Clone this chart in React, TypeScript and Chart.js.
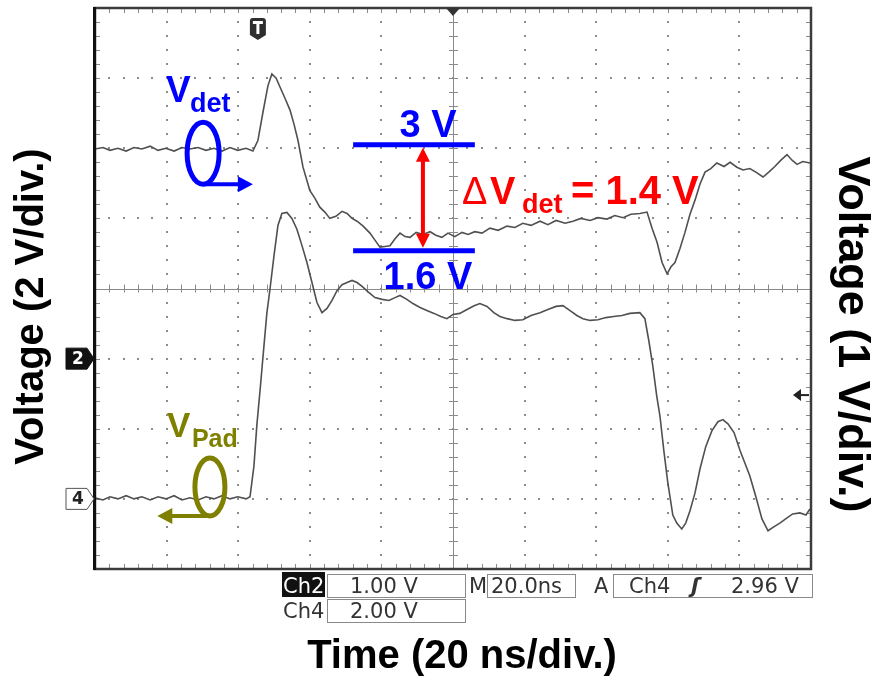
import React, { useEffect, useRef } from "react";
import { Chart, registerables } from "chart.js";

Chart.register(...registerables);

// ---- Data (time in ns, 20 ns/div) ----
const X_TICKS_NS = [0, 20, 40, 60, 80, 100, 120, 140, 160, 180, 200];
const CH4_TICKS_V = [-2, 0, 2, 4, 6, 8, 10, 12, 14]; // 2 V/div (V_Pad)
const CH2_TICKS_V = [-3, -2, -1, 0, 1, 2, 3, 4, 5]; // 1 V/div (V_det)

const VDET_T = [0.0, 2.2, 4.2, 6.4, 8.7, 10.9, 13.1, 15.4, 17.6, 19.8, 22.1, 24.3, 26.5, 28.8, 31.0, 33.2, 35.5, 37.7, 39.9, 42.2, 44.1, 45.5, 46.9, 48.3, 49.4, 50.6, 51.7, 53.1, 54.5, 55.6, 56.7, 58.1, 60.0, 61.4, 62.8, 64.2, 65.6, 67.3, 69.0, 70.4, 71.8, 73.2, 74.9, 76.8, 78.2, 79.6, 81.0, 82.4, 83.8, 85.2, 86.6, 88.0, 89.7, 91.6, 93.6, 95.2, 96.9, 98.6, 100.5, 102.5, 104.2, 106.1, 108.1, 110.3, 112.6, 115.1, 117.3, 119.5, 121.8, 124.3, 126.5, 128.8, 131.3, 133.5, 135.7, 138.3, 140.5, 143.0, 145.2, 147.5, 149.7, 152.2, 154.2, 155.6, 157.0, 158.4, 159.8, 160.9, 162.0, 163.4, 164.8, 166.2, 167.6, 169.0, 170.4, 172.0, 173.7, 175.7, 177.4, 179.3, 181.0, 182.9, 184.6, 186.6, 188.2, 189.9, 191.6, 193.3, 194.7, 196.1, 197.7, 199.7];
const VDET_V = [2.99, 3.01, 2.97, 3.00, 2.96, 3.01, 2.99, 3.03, 2.97, 3.00, 2.96, 3.01, 2.99, 3.01, 2.97, 3.00, 2.96, 3.01, 2.97, 3.00, 2.96, 3.11, 3.51, 3.89, 4.06, 4.00, 3.87, 3.71, 3.54, 3.34, 3.11, 2.73, 2.40, 2.29, 2.16, 2.09, 2.00, 2.03, 2.10, 2.07, 2.00, 1.96, 1.89, 1.79, 1.69, 1.59, 1.60, 1.61, 1.71, 1.79, 1.74, 1.73, 1.80, 1.77, 1.81, 1.76, 1.73, 1.79, 1.74, 1.80, 1.77, 1.81, 1.79, 1.86, 1.83, 1.89, 1.87, 1.93, 1.90, 1.96, 1.91, 1.97, 1.93, 1.96, 2.00, 1.97, 2.01, 1.99, 2.04, 2.01, 2.06, 2.07, 2.09, 1.86, 1.66, 1.37, 1.21, 1.31, 1.37, 1.57, 1.80, 2.06, 2.26, 2.49, 2.66, 2.71, 2.79, 2.74, 2.80, 2.73, 2.69, 2.71, 2.66, 2.59, 2.66, 2.74, 2.83, 2.91, 2.83, 2.77, 2.81, 2.79];

const VPAD_T = [0.0, 2.2, 4.2, 6.4, 8.7, 10.9, 13.1, 15.4, 17.6, 19.8, 22.1, 24.3, 26.5, 28.8, 31.0, 33.2, 35.5, 37.7, 39.9, 42.2, 43.3, 44.4, 45.2, 46.1, 47.2, 48.0, 48.9, 50.0, 51.1, 52.2, 53.6, 55.0, 56.4, 57.8, 59.2, 60.6, 62.0, 63.4, 64.8, 66.2, 67.6, 69.0, 70.4, 71.8, 73.2, 74.6, 76.2, 78.2, 80.2, 82.1, 83.8, 85.2, 87.1, 88.8, 90.8, 92.7, 94.7, 96.6, 98.3, 100.0, 101.9, 103.9, 105.9, 107.5, 109.5, 111.4, 113.1, 115.1, 117.3, 119.5, 121.8, 124.3, 126.5, 128.8, 130.7, 132.7, 134.6, 136.3, 138.3, 140.5, 142.7, 144.9, 147.2, 149.4, 152.2, 153.6, 154.7, 155.8, 156.9, 157.8, 158.9, 160.0, 161.4, 162.5, 163.9, 165.0, 166.2, 167.6, 169.0, 170.6, 172.3, 174.0, 175.4, 176.8, 178.5, 180.2, 181.5, 182.9, 184.6, 186.3, 188.0, 189.6, 191.3, 193.3, 194.9, 196.9, 198.6, 199.7];
const VPAD_V = [0.03, -0.03, 0.06, 0.00, 0.09, 0.00, 0.06, -0.03, 0.06, 0.00, 0.09, -0.03, 0.03, -0.03, 0.06, 0.00, 0.09, 0.00, 0.06, 0.00, 0.06, 0.94, 2.09, 3.09, 4.37, 5.29, 6.00, 6.94, 7.80, 8.14, 8.17, 8.00, 7.69, 7.23, 6.74, 6.17, 5.60, 5.31, 5.43, 5.66, 5.94, 6.11, 6.17, 6.23, 6.17, 6.06, 5.91, 5.74, 5.69, 5.66, 5.74, 5.80, 5.69, 5.57, 5.46, 5.37, 5.29, 5.20, 5.14, 5.26, 5.29, 5.40, 5.51, 5.57, 5.49, 5.31, 5.20, 5.14, 5.09, 5.11, 5.23, 5.31, 5.40, 5.49, 5.51, 5.37, 5.23, 5.14, 5.09, 5.11, 5.17, 5.20, 5.23, 5.29, 5.31, 5.14, 4.51, 3.80, 2.94, 2.37, 1.37, 0.46, -0.46, -0.69, -0.86, -0.69, -0.34, 0.17, 0.86, 1.49, 1.94, 2.20, 2.26, 2.14, 1.89, 1.37, 1.03, 0.66, 0.06, -0.57, -0.91, -0.80, -0.69, -0.54, -0.43, -0.40, -0.46, -0.29];

// Annotation values
const LEVEL_HIGH_V = 3.05; // "3 V" marker line (Ch2 scale)
const LEVEL_LOW_V = 1.54; // "1.6 V" marker line (Ch2 scale)
const LEVEL_SPAN_NS = [72.1, 106.1];
const DELTA_ARROW_NS = 91.6;
const TRIGGER_LEVEL_V = 2.96; // Ch4
const TRIGGER_POS_NS = 45.5;
const VDET_LOOP = { t: 30.2, v: 2.93, arrowTo: 44.1 };
const VPAD_LOOP = { t: 32.1, v: 0.34, arrowTo: 17.4 };

const SANS = '"Liberation Sans", Arial, Helvetica, sans-serif';
const MONO = '"DejaVu Sans", Verdana, sans-serif';
const BLUE = "#0000ff";
const RED = "#ff0000";
const OLIVE = "#808000";

function txt(ctx: CanvasRenderingContext2D, s: string, x: number, y: number, font: string, color: string, align: CanvasTextAlign = "left") {
  ctx.font = font;
  ctx.fillStyle = color;
  ctx.textAlign = align;
  ctx.textBaseline = "alphabetic";
  ctx.fillText(s, x, y);
}

const scopePlugin = {
  id: "scope",
  beforeDraw(chart: any) {
    const ctx = chart.ctx;
    ctx.save();
    ctx.fillStyle = "#ffffff";
    ctx.fillRect(0, 0, chart.width, chart.height);
    ctx.restore();
  },
  beforeDatasetsDraw(chart: any) {
    const ctx: CanvasRenderingContext2D = chart.ctx;
    const { left, right, top, bottom } = chart.chartArea;
    const xs = chart.scales.x;
    const ys = chart.scales.y;
    const w = right - left;
    const h = bottom - top;
    ctx.save();
    // dotted grid
    ctx.fillStyle = "#8c8c8c";
    X_TICKS_NS.forEach((t, i) => {
      if (i === 0 || i === X_TICKS_NS.length - 1 || i === 5) return;
      const x = xs.getPixelForValue(t);
      for (let j = 1; j < 40; j++) {
        const y = top + (j * h) / 40;
        ctx.fillRect(Math.round(x) - 1, Math.round(y) - 1, 2, 2);
      }
    });
    CH4_TICKS_V.forEach((v, k) => {
      if (k === 0 || k === CH4_TICKS_V.length - 1 || k === 4) return;
      const y = ys.getPixelForValue(v);
      for (let m = 1; m < 50; m++) {
        const x = left + (m * w) / 50;
        ctx.fillRect(Math.round(x) - 1, Math.round(y) - 1, 2, 2);
      }
    });
    // center cross
    const cx = xs.getPixelForValue(X_TICKS_NS[5]);
    const cy = ys.getPixelForValue(CH4_TICKS_V[4]);
    ctx.strokeStyle = "#8a8a8a";
    ctx.lineWidth = 1;
    ctx.beginPath();
    ctx.moveTo(left, Math.round(cy) + 0.5);
    ctx.lineTo(right, Math.round(cy) + 0.5);
    ctx.moveTo(Math.round(cx) + 0.5, top);
    ctx.lineTo(Math.round(cx) + 0.5, bottom);
    for (let m = 1; m < 50; m++) {
      const x = Math.round(left + (m * w) / 50) + 0.5;
      ctx.moveTo(x, cy - 4);
      ctx.lineTo(x, cy + 4);
      ctx.moveTo(x, top);
      ctx.lineTo(x, top + 5);
      ctx.moveTo(x, bottom - 5);
      ctx.lineTo(x, bottom);
    }
    for (let j = 1; j < 40; j++) {
      const y = Math.round(top + (j * h) / 40) + 0.5;
      ctx.moveTo(cx - 4, y);
      ctx.lineTo(cx + 5, y);
      ctx.moveTo(left, y);
      ctx.lineTo(left + 5, y);
      ctx.moveTo(right - 5, y);
      ctx.lineTo(right, y);
    }
    ctx.stroke();
    ctx.restore();
  },
  afterDatasetsDraw(chart: any) {
    const ctx: CanvasRenderingContext2D = chart.ctx;
    const { left, right, top, bottom } = chart.chartArea;
    const xs = chart.scales.x;
    const ys = chart.scales.y;
    const y2 = chart.scales.y2;
    ctx.save();

    // frame
    ctx.strokeStyle = "#3c3c3c";
    ctx.lineWidth = 2.5;
    ctx.strokeRect(left, top, right - left, bottom - top);
    ctx.fillStyle = "#111";
    ctx.fillRect(left - 2, top - 1, 3, bottom - top + 2);

    // trigger position marker (top) and "T" badge
    const cx = xs.getPixelForValue(X_TICKS_NS[5]);
    ctx.fillStyle = "#333";
    ctx.beginPath();
    ctx.moveTo(cx - 7, top);
    ctx.lineTo(cx + 7, top);
    ctx.lineTo(cx, top + 8);
    ctx.closePath();
    ctx.fill();
    const tx = xs.getPixelForValue(TRIGGER_POS_NS);
    ctx.fillStyle = "#2e2e2e";
    ctx.beginPath();
    ctx.moveTo(tx - 8, top + 13);
    ctx.quadraticCurveTo(tx - 8, top + 10, tx - 5, top + 10);
    ctx.lineTo(tx + 5, top + 10);
    ctx.quadraticCurveTo(tx + 8, top + 10, tx + 8, top + 13);
    ctx.lineTo(tx + 8, top + 27);
    ctx.lineTo(tx, top + 32);
    ctx.lineTo(tx - 8, top + 27);
    ctx.closePath();
    ctx.fill();
    ctx.fillStyle = "#fff";
    ctx.fillRect(tx - 5, top + 13, 10, 3);
    ctx.fillRect(tx - 1.5, top + 13, 3, 13);

    // channel reference markers
    const drawMarker = (y: number, label: string, dark: boolean) => {
      ctx.beginPath();
      ctx.moveTo(left - 29, y - 10.5);
      ctx.lineTo(left - 8, y - 10.5);
      ctx.lineTo(left - 1, y);
      ctx.lineTo(left - 8, y + 10.5);
      ctx.lineTo(left - 29, y + 10.5);
      ctx.closePath();
      ctx.fillStyle = dark ? "#111" : "#fff";
      ctx.fill();
      ctx.lineWidth = 1;
      ctx.strokeStyle = dark ? "#111" : "#555";
      ctx.stroke();
      ctx.font = `bold 17px ${MONO}`;
      ctx.fillStyle = dark ? "#fff" : "#222";
      ctx.textAlign = "center";
      ctx.textBaseline = "middle";
      ctx.fillText(label, left - 17, y + 1);
    };
    drawMarker(y2.getPixelForValue(0), "2", true);
    drawMarker(ys.getPixelForValue(0), "4", false);

    // trigger level arrow (right)
    const ty = ys.getPixelForValue(TRIGGER_LEVEL_V);
    ctx.strokeStyle = "#222";
    ctx.fillStyle = "#222";
    ctx.lineWidth = 2;
    ctx.beginPath();
    ctx.moveTo(right - 12, ty);
    ctx.lineTo(right - 2, ty);
    ctx.stroke();
    ctx.beginPath();
    ctx.moveTo(right - 18, ty);
    ctx.lineTo(right - 10, ty - 6);
    ctx.lineTo(right - 10, ty + 6);
    ctx.closePath();
    ctx.fill();

    // level lines 3 V / 1.6 V
    const lx0 = xs.getPixelForValue(LEVEL_SPAN_NS[0]);
    const lx1 = xs.getPixelForValue(LEVEL_SPAN_NS[1]);
    const yHi = y2.getPixelForValue(LEVEL_HIGH_V);
    const yLo = y2.getPixelForValue(LEVEL_LOW_V);
    ctx.strokeStyle = BLUE;
    ctx.lineWidth = 5;
    ctx.beginPath();
    ctx.moveTo(lx0, yHi);
    ctx.lineTo(lx1, yHi);
    ctx.moveTo(lx0, yLo);
    ctx.lineTo(lx1, yLo);
    ctx.stroke();
    const lmid = (lx0 + lx1) / 2 + 14;
    txt(ctx, "3 V", lmid, yHi - 8, `bold 38px ${SANS}`, BLUE, "center");
    txt(ctx, "1.6 V", lmid, yLo + 38, `bold 38px ${SANS}`, BLUE, "center");

    // red double arrow
    const ax = xs.getPixelForValue(DELTA_ARROW_NS);
    ctx.strokeStyle = RED;
    ctx.fillStyle = RED;
    ctx.lineWidth = 4;
    ctx.beginPath();
    ctx.moveTo(ax, yHi + 14);
    ctx.lineTo(ax, yLo - 14);
    ctx.stroke();
    ctx.beginPath();
    ctx.moveTo(ax, yHi + 3);
    ctx.lineTo(ax + 7, yHi + 17);
    ctx.lineTo(ax - 7, yHi + 17);
    ctx.closePath();
    ctx.moveTo(ax, yLo - 3);
    ctx.lineTo(ax + 7, yLo - 17);
    ctx.lineTo(ax - 7, yLo - 17);
    ctx.closePath();
    ctx.fill();

    // ΔV_det = 1.4 V
    const dBase = yHi + 59;
    let dx = ax + 39;
    txt(ctx, "Δ", dx, dBase, `38px ${SANS}`, RED);
    dx += 28;
    txt(ctx, "V", dx, dBase, `bold 38px ${SANS}`, RED);
    dx += 32;
    txt(ctx, "det", dx, dBase + 9, `bold 27px ${SANS}`, RED);
    dx += 49;
    txt(ctx, "= 1.4 V", dx, dBase, `bold 40px ${SANS}`, RED);

    // V_det loop annotation
    const vx = xs.getPixelForValue(VDET_LOOP.t);
    const vy = y2.getPixelForValue(VDET_LOOP.v);
    ctx.strokeStyle = BLUE;
    ctx.fillStyle = BLUE;
    ctx.lineWidth = 5;
    ctx.beginPath();
    ctx.ellipse(vx, vy, 16, 31, 0, 0, Math.PI * 2);
    ctx.stroke();
    const ve = xs.getPixelForValue(VDET_LOOP.arrowTo);
    ctx.lineWidth = 4;
    ctx.beginPath();
    ctx.moveTo(vx, vy + 31);
    ctx.lineTo(ve - 12, vy + 31);
    ctx.stroke();
    ctx.beginPath();
    ctx.moveTo(ve, vy + 31);
    ctx.lineTo(ve - 15, vy + 23);
    ctx.lineTo(ve - 15, vy + 39);
    ctx.closePath();
    ctx.fill();
    txt(ctx, "V", vx - 37, vy - 51, `bold 37px ${SANS}`, BLUE);
    txt(ctx, "det", vx - 13, vy - 41, `bold 27px ${SANS}`, BLUE);

    // V_Pad loop annotation
    const px = xs.getPixelForValue(VPAD_LOOP.t);
    const py = ys.getPixelForValue(VPAD_LOOP.v);
    ctx.strokeStyle = OLIVE;
    ctx.fillStyle = OLIVE;
    ctx.lineWidth = 5;
    ctx.beginPath();
    ctx.ellipse(px, py, 15, 29, 0, 0, Math.PI * 2);
    ctx.stroke();
    const pe = xs.getPixelForValue(VPAD_LOOP.arrowTo);
    ctx.lineWidth = 4;
    ctx.beginPath();
    ctx.moveTo(px, py + 29);
    ctx.lineTo(pe + 12, py + 29);
    ctx.stroke();
    ctx.beginPath();
    ctx.moveTo(pe, py + 29);
    ctx.lineTo(pe + 15, py + 21);
    ctx.lineTo(pe + 15, py + 37);
    ctx.closePath();
    ctx.fill();
    txt(ctx, "V", px - 43, py - 50, `bold 35px ${SANS}`, OLIVE);
    txt(ctx, "Pad", px - 18, py - 40, `bold 25px ${SANS}`, OLIVE);

    // scope readout boxes
    const r1 = bottom + 5;
    const r2 = bottom + 30;
    const bh = 23;
    ctx.lineWidth = 1;
    ctx.strokeStyle = "#8a8a8a";
    ctx.fillStyle = "#111";
    ctx.fillRect(cx - 171, r1 - 2, 43, bh + 2);
    const box = (x0: number, x1: number, y: number) => ctx.strokeRect(x0 + 0.5, y + 0.5, x1 - x0, bh);
    box(cx - 126, cx + 12, r1);
    box(cx + 34, cx + 122, r1);
    box(cx + 160, cx + 359, r1);
    box(cx - 126, cx + 12, r2);
    const f = `21px ${MONO}`;
    const b1 = r1 + 19;
    const b2 = r2 + 19;
    txt(ctx, "Ch2", cx - 170, b1, f, "#fff");
    txt(ctx, "1.00 V", cx - 103, b1, f, "#333");
    txt(ctx, "M", cx + 16, b1, f, "#333");
    txt(ctx, "20.0ns", cx + 38, b1, f, "#333");
    txt(ctx, "A", cx + 141, b1, f, "#333");
    txt(ctx, "Ch4", cx + 176, b1, f, "#333");
    txt(ctx, "ʃ", cx + 238, b1, `bold italic 21px ${MONO}`, "#333");
    txt(ctx, "2.96 V", cx + 278, b1, f, "#333");
    txt(ctx, "Ch4", cx - 170, b2, f, "#333");
    txt(ctx, "2.00 V", cx - 103, b2, f, "#333");

    // axis titles
    ctx.fillStyle = "#000";
    ctx.font = `bold 40px ${SANS}`;
    ctx.textAlign = "center";
    ctx.textBaseline = "middle";
    ctx.save();
    ctx.translate(32, (top + bottom) / 2 + 18);
    ctx.rotate(-Math.PI / 2);
    ctx.fillText("Voltage (2 V/div.)", 0, 0);
    ctx.restore();
    ctx.save();
    ctx.font = `bold 45px ${SANS}`;
    ctx.translate(851, (top + bottom) / 2 + 46);
    ctx.rotate(Math.PI / 2);
    ctx.fillText("Voltage (1 V/div.)", 0, 0);
    ctx.restore();
    txt(ctx, "Time (20 ns/div.)", cx + 9, 668, `bold 40px ${SANS}`, "#000", "center");

    ctx.restore();
  },
};

export default function App() {
  const ref = useRef<HTMLCanvasElement | null>(null);
  useEffect(() => {
    if (!ref.current) return;
    const vdet = VDET_T.map((t, i) => ({ x: t, y: VDET_V[i] }));
    const vpad = VPAD_T.map((t, i) => ({ x: t, y: VPAD_V[i] }));
    const chart = new Chart(ref.current, {
      type: "line",
      data: {
        datasets: [
          { label: "Ch2 V_det", data: vdet, yAxisID: "y2", borderColor: "#505050", borderWidth: 1.6, pointRadius: 0, tension: 0, fill: false },
          { label: "Ch4 V_Pad", data: vpad, yAxisID: "y", borderColor: "#505050", borderWidth: 1.6, pointRadius: 0, tension: 0, fill: false },
        ],
      },
      options: {
        animation: false,
        responsive: true,
        maintainAspectRatio: false,
        layout: { padding: { left: 95, right: 61, top: 8, bottom: 113 } },
        plugins: { legend: { display: false }, tooltip: { enabled: false } },
        scales: {
          x: { type: "linear", min: X_TICKS_NS[0], max: X_TICKS_NS[X_TICKS_NS.length - 1], display: false },
          y: { type: "linear", position: "left", min: CH4_TICKS_V[0], max: CH4_TICKS_V[CH4_TICKS_V.length - 1], display: false },
          y2: { type: "linear", position: "right", min: CH2_TICKS_V[0], max: CH2_TICKS_V[CH2_TICKS_V.length - 1], display: false },
        },
      },
      plugins: [scopePlugin],
    });
    return () => chart.destroy();
  }, []);
  return (
    <div style={{ position: "absolute", left: 0, top: 0, width: 872, height: 682, background: "#fff" }}>
      <canvas ref={ref} />
    </div>
  );
}
